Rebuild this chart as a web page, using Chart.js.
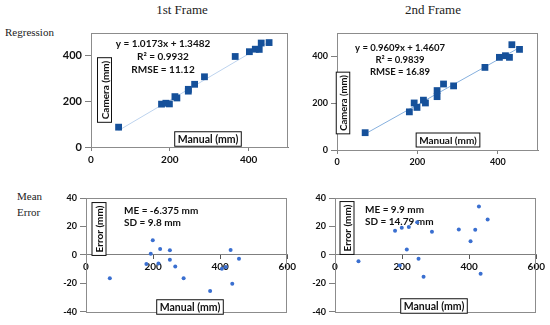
<!DOCTYPE html>
<html lang="en">
<head>
<meta charset="UTF-8">
<title>Regression and Mean Error</title>
<script src="https://cdn.jsdelivr.net/npm/chart.js"></script>
<style>
  body { margin: 0; background: #fff; }
  #page { position: relative; width: 550px; height: 325px; overflow: hidden; background: #fff; }
  #page canvas { position: absolute; }
  .lbl { position: absolute; font-family: "Liberation Serif", serif; color: #222; white-space: nowrap; }
  .ttl { font-size: 13px; transform: translateX(-50%); }
  .row { font-size: 11px; }
</style>
</head>
<body>
<div id="page">
  <div class="lbl ttl" style="left:182px; top:2px;">1st Frame</div>
  <div class="lbl ttl" style="left:433px; top:2px;">2nd Frame</div>
  <div class="lbl row" style="left:5px; top:26px;">Regression</div>
  <div class="lbl row" style="left:17px; top:190px;">Mean</div>
  <div class="lbl row" style="left:17px; top:206px;">Error</div>
  <canvas id="reg1" width="267" height="150" style="left:31px; top:23px;"></canvas>
  <canvas id="reg2" width="271" height="153" style="left:277px; top:23px;"></canvas>
  <canvas id="err1" width="272" height="132" style="left:26px; top:188px;"></canvas>
  <canvas id="err2" width="272" height="132" style="left:275px; top:188px;"></canvas>
</div>

<script>
  // 1st frame regression (manual vs camera, mm)
  const reg1Manual = [70, 179, 190, 199, 213, 218, 247, 247, 263, 288, 366, 402, 417, 427, 432, 452];
  const reg1Camera = [87, 188, 192, 189, 221, 215, 253, 245, 275, 308, 397, 418, 429, 428, 456, 458];
  const trend1X = [70, 452];
  const trend1Y = [72.6, 461.2];

  // 2nd frame regression
  const reg2Manual = [70, 180, 192, 199, 215, 220, 249, 249, 265, 290, 368, 404, 419, 429, 435, 454];
  const reg2Camera = [74, 163, 201, 182, 213, 201, 254, 228, 282, 274, 353, 396, 403, 396, 450, 430];
  const trend2X = [70, 454];
  const trend2Y = [68.7, 437.7];

  // mean error (mm)
  const err1Manual = [71, 180, 193, 199, 216, 221, 250, 250, 266, 291, 370, 405, 417, 431, 436, 456];
  const err1Value = [-16.6, -6.4, 0.7, 10.3, -6.2, 4.1, 3.2, -3.4, -8.2, -16.6, -25.5, -9.8, -8.6, 3.4, -20.3, -2.7];
  const err2Manual = [70, 179, 193, 199, 214, 220, 245, 249, 264, 289, 369, 404, 418, 429, 434, 455];
  const err2Value = [-4.6, 16.9, -7.5, 19.1, 3.7, 19.6, 23, -2.7, -15.5, 16.2, 17.8, 9.6, 17.6, 34, -13.4, 24.9];

  const regTicks = [0, 200, 400];
  const errXTicks = [0, 200, 400, 600];
  const errYTicks = [-40, -20, 0, 20, 40];

  const pts = (xs, ys) => xs.map((x, i) => ({ x: x, y: ys[i] }));

  // frame, annotations and boxed axis titles
  const decor = {
    id: 'decor',
    beforeDatasetsDraw(chart, args, opts) {
      const ctx = chart.ctx, a = chart.chartArea;
      ctx.save();
      ctx.strokeStyle = '#8c8c8c';
      ctx.lineWidth = 1;
      ctx.strokeRect(Math.round(a.left) + 0.5, Math.round(a.top) + 0.5, Math.round(a.width) - 1, Math.round(a.height));
      ctx.fillStyle = '#111';
      (opts.texts || []).forEach(t => {
        ctx.font = 'bold ' + t.size + 'px Lato, sans-serif';
        ctx.textAlign = t.align || 'center';
        ctx.textBaseline = 'middle';
        ctx.fillText(t.text, a.left + t.dx, a.top + t.dy);
      });
      (opts.boxes || []).forEach(b => {
        ctx.save();
        ctx.translate(a.left + b.dx, a.top + b.dy);
        if (b.vertical) ctx.rotate(-Math.PI / 2);
        ctx.font = 'bold ' + b.size + 'px Lato, sans-serif';
        const w = ctx.measureText(b.text).width + 6, h = b.size + 4;
        ctx.fillStyle = '#fff';
        ctx.fillRect(-w / 2, -h / 2, w, h);
        ctx.strokeStyle = '#111';
        ctx.lineWidth = 1;
        ctx.strokeRect(-w / 2, -h / 2, w, h);
        ctx.fillStyle = '#111';
        ctx.textAlign = 'center';
        ctx.textBaseline = 'middle';
        ctx.fillText(b.text, 0, 1);
        ctx.restore();
      });
      ctx.restore();
    }
  };

  function keepTicks(list) {
    return s => { s.ticks = list.map(v => ({ value: v })); };
  }

  function regChart(id, xs, ys, tx, ty, lineColor, tickSize, xTickSize, decorOpts) {
    return new Chart(document.getElementById(id), {
      type: 'scatter',
      data: {
        datasets: [
          {
            data: pts(xs, ys),
            pointStyle: 'rect',
            pointRadius: 4.8,
            backgroundColor: '#15509a',
            borderColor: '#15509a',
            borderWidth: 0,
            order: 1
          },
          {
            type: 'line',
            data: pts(tx, ty),
            borderColor: lineColor,
            borderWidth: 1,
            pointRadius: 0,
            fill: false,
            order: 2
          }
        ]
      },
      options: {
        responsive: false,
        animation: false,
        layout: { padding: { top: 10, right: 10, left: 0, bottom: 0 } },
        plugins: { legend: { display: false }, tooltip: { enabled: false }, decor: decorOpts },
        scales: {
          x: {
            type: 'linear', min: 0, max: 500,
            afterBuildTicks: keepTicks(regTicks),
            afterFit: s => { s.height = 26; },
            ticks: { color: '#111', font: { family: 'Lato', weight: 'bold', size: xTickSize }, padding: 3, maxRotation: 0 },
            grid: { drawOnChartArea: false, tickLength: 4, color: '#7f7f7f' },
            border: { color: '#7f7f7f' }
          },
          y: {
            type: 'linear', min: 0, max: 500,
            afterBuildTicks: keepTicks(regTicks),
            afterFit: s => { s.width = 60; },
            ticks: { color: '#111', font: { family: 'Lato', weight: 'bold', size: tickSize }, padding: 3 },
            grid: { drawOnChartArea: false, tickLength: 6, color: '#7f7f7f' },
            border: { color: '#7f7f7f' }
          }
        }
      },
      plugins: [decor]
    });
  }

  function errChart(id, xs, ys, decorOpts) {
    return new Chart(document.getElementById(id), {
      type: 'scatter',
      data: {
        datasets: [{
          data: pts(xs, ys),
          pointRadius: 2,
          backgroundColor: '#3a6fd0',
          borderWidth: 0
        }]
      },
      options: {
        responsive: false,
        animation: false,
        layout: { padding: { top: 10, right: 10, left: 0, bottom: 5 } },
        plugins: { legend: { display: false }, tooltip: { enabled: false }, decor: decorOpts },
        scales: {
          x: {
            type: 'linear', min: 0, max: 600,
            position: { y: 0 },
            afterBuildTicks: keepTicks(errXTicks),
            ticks: { color: '#111', font: { family: 'Lato', weight: 'bold', size: 10 }, padding: 2, maxRotation: 0 },
            grid: { drawOnChartArea: false, tickLength: 4, color: '#555' },
            border: { color: '#7f7f7f' }
          },
          y: {
            type: 'linear', min: -40, max: 40,
            afterBuildTicks: keepTicks(errYTicks),
            afterFit: s => { s.width = 60; },
            ticks: { color: '#111', font: { family: 'Lato', weight: 'bold', size: 9 }, padding: 3 },
            grid: { drawOnChartArea: false, tickLength: 6, color: '#7f7f7f' },
            border: { color: '#7f7f7f' }
          }
        }
      },
      plugins: [decor]
    });
  }

  regChart('reg1', reg1Manual, reg1Camera, trend1X, trend1Y, '#bdd3ee', 11, 10, {
    texts: [
      { text: 'y = 1.0173x + 1.3482', dx: 72, dy: 11, size: 10 },
      { text: 'R\u00b2 = 0.9932', dx: 72, dy: 24, size: 10 },
      { text: 'RMSE = 11.12', dx: 72, dy: 37, size: 10 }
    ],
    boxes: [
      { text: 'Camera (mm)', dx: 13.5, dy: 57, size: 10, vertical: true },
      { text: 'Manual (mm)', dx: 117, dy: 106, size: 10.5 }
    ]
  });

  regChart('reg2', reg2Manual, reg2Camera, trend2X, trend2Y, '#86b0de', 9, 9, {
    texts: [
      { text: 'y = 0.9609x + 1.4607', dx: 63, dy: 15, size: 9.5 },
      { text: 'R\u00b2 = 0.9839', dx: 63, dy: 27, size: 9.5 },
      { text: 'RMSE = 16.89', dx: 63, dy: 39, size: 9.5 }
    ],
    boxes: [
      { text: 'Camera (mm)', dx: 6, dy: 70, size: 9.5, vertical: true },
      { text: 'Manual (mm)', dx: 111, dy: 107, size: 10 }
    ]
  });

  errChart('err1', err1Manual, err1Value, {
    texts: [
      { text: 'ME = -6.375 mm', dx: 38, dy: 13, size: 10, align: 'left' },
      { text: 'SD = 9.8 mm', dx: 38, dy: 25, size: 10, align: 'left' }
    ],
    boxes: [
      { text: 'Error (mm)', dx: 13, dy: 31, size: 10, vertical: true },
      { text: 'Manual (mm)', dx: 104, dy: 109, size: 10.5 }
    ]
  });

  errChart('err2', err2Manual, err2Value, {
    texts: [
      { text: 'ME = 9.9 mm', dx: 30, dy: 12, size: 10, align: 'left' },
      { text: 'SD = 14.79 mm', dx: 30, dy: 24, size: 10, align: 'left' }
    ],
    boxes: [
      { text: 'Error (mm)', dx: 12, dy: 30, size: 10, vertical: true },
      { text: 'Manual (mm)', dx: 99, dy: 108, size: 10.5 }
    ]
  });
</script>
</body>
</html>
